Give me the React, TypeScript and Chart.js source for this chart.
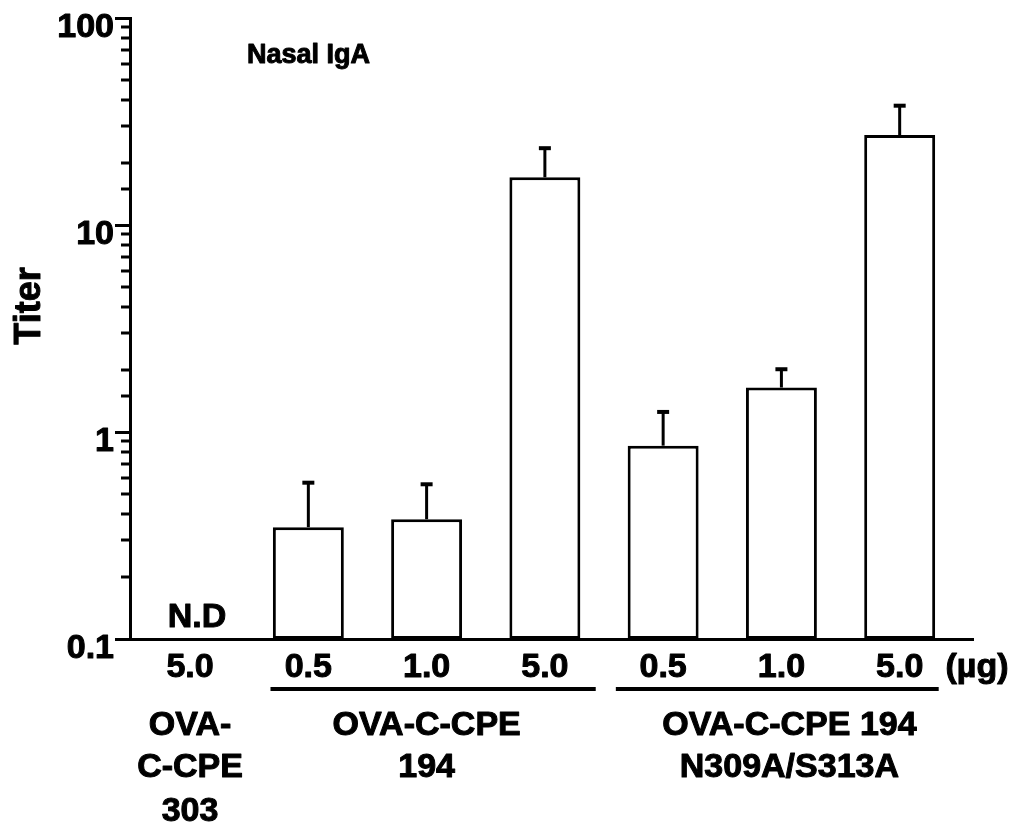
import React, { useEffect, useRef } from "react";
import { Chart, registerables } from "chart.js";

Chart.register(...registerables);

// ---- data ----
const doseLabels = ["5.0", "0.5", "1.0", "5.0", "0.5", "1.0", "5.0"];
const titerMeans: (number | null)[] = [null, 0.347, 0.379, 17.0, 0.859, 1.64, 27.2];
const titerUpper: (number | null)[] = [null, 0.569, 0.559, 23.5, 1.25, 2.01, 37.7];
const yTickValues = [0.1, 1, 10, 100];
const yTickLabels = ["0.1", "1", "10", "100"];
const groupLabels = [
  { lines: ["OVA-", "C-CPE", "303"], from: 0, to: 0 },
  { lines: ["OVA-C-CPE", "194"], from: 1, to: 3 },
  { lines: ["OVA-C-CPE 194", "N309A/S313A"], from: 4, to: 6 },
];
const chartTitle = "Nasal IgA";
const yTitle = "Titer";
const unitLabel = "(µg)";
const ndLabel = "N.D";

const FONT = "'Liberation Sans', Arial, Helvetica, sans-serif";

const isPow10 = (v: number) => {
  const l = Math.log10(v);
  return Math.abs(l - Math.round(l)) < 1e-6;
};

const heavyText = (ctx: CanvasRenderingContext2D, s: string, x: number, y: number) => {
  ctx.strokeText(s, x, y);
  ctx.fillText(s, x, y);
};

const decorPlugin = {
  id: "decor",
  afterDatasetsDraw(chart: any) {
    const { ctx, scales } = chart;
    const xs = scales.x;
    const ys = scales.y;
    ctx.save();
    ctx.strokeStyle = "#000";
    ctx.fillStyle = "#000";
    ctx.lineJoin = "round";
    // minor ticks on y axis
    ctx.lineWidth = 3;
    ys.ticks.forEach((t: any) => {
      if (isPow10(t.value)) return;
      const y = Math.round(ys.getPixelForValue(t.value));
      ctx.beginPath();
      ctx.moveTo(xs.left - 9, y);
      ctx.lineTo(xs.left, y);
      ctx.stroke();
    });
    // error bars
    titerMeans.forEach((m, i) => {
      const u = titerUpper[i];
      if (m == null || u == null) return;
      const x = xs.getPixelForValue(i);
      const y0 = ys.getPixelForValue(m);
      const y1 = ys.getPixelForValue(u);
      ctx.lineWidth = 3;
      ctx.beginPath();
      ctx.moveTo(x, y0);
      ctx.lineTo(x, y1);
      ctx.stroke();
      ctx.lineWidth = 4;
      ctx.beginPath();
      ctx.moveTo(x - 6, y1);
      ctx.lineTo(x + 6, y1);
      ctx.stroke();
    });

    ctx.lineWidth = 1;
    ctx.textBaseline = "alphabetic";
    // y tick labels
    ctx.font = `bold 34px ${FONT}`;
    ctx.textAlign = "right";
    yTickValues.forEach((v, i) => {
      const y = ys.getPixelForValue(v);
      heavyText(ctx, yTickLabels[i], xs.left - 16, y + 19);
    });
    // x dose labels
    ctx.textAlign = "center";
    doseLabels.forEach((s, i) => {
      heavyText(ctx, s, xs.getPixelForValue(i), ys.bottom + 38);
    });
    // title
    ctx.font = `bold 27px ${FONT}`;
    ctx.textAlign = "left";
    heavyText(ctx, chartTitle, 247, 63);
    // y title
    ctx.save();
    ctx.translate(40, 306);
    ctx.rotate(-Math.PI / 2);
    ctx.font = `bold 36px ${FONT}`;
    ctx.textAlign = "center";
    heavyText(ctx, yTitle, 0, 0);
    ctx.restore();
    // N.D
    ctx.font = `bold 34px ${FONT}`;
    ctx.textAlign = "center";
    heavyText(ctx, ndLabel, xs.getPixelForValue(0) + 7, 627);
    // unit
    heavyText(ctx, unitLabel, 977, 677);
    // group underlines and labels
    const baselines = [735, 777, 821];
    const lineExt: Record<number, [number, number]> = { 1: [-0.32, 0.43], 4: [-0.4, 0.33] };
    groupLabels.forEach((g) => {
      const cx = (xs.getPixelForValue(g.from) + xs.getPixelForValue(g.to)) / 2;
      if (g.to > g.from) {
        const ext = lineExt[g.from] || [-0.36, 0.36];
        ctx.lineWidth = 4;
        ctx.beginPath();
        ctx.moveTo(xs.getPixelForValue(g.from + ext[0]), 689);
        ctx.lineTo(xs.getPixelForValue(g.to + ext[1]), 689);
        ctx.stroke();
        ctx.lineWidth = 1;
      }
      g.lines.forEach((line, k) => {
        heavyText(ctx, line, cx + (g.from === 4 ? 8 : 0), baselines[k]);
      });
    });
    ctx.restore();
  },
};

export default function App() {
  const ref = useRef<HTMLCanvasElement>(null);
  useEffect(() => {
    if (!ref.current) return;
    const chart = new Chart(ref.current, {
      type: "bar",
      data: {
        datasets: [
          {
            data: titerMeans.map((v, i) => ({ x: i, y: v })) as any,
            backgroundColor: "#fff",
            borderColor: "#000",
            borderWidth: 3,
            borderSkipped: false,
            barPercentage: 0.6,
            categoryPercentage: 1,
          },
        ],
      },
      options: {
        animation: false,
        responsive: true,
        maintainAspectRatio: false,
        layout: { padding: { top: 18, right: 50, left: 0, bottom: 0 } },
        plugins: { legend: { display: false }, tooltip: { enabled: false } },
        scales: {
          x: {
            type: "linear",
            offset: false,
            min: -0.508,
            max: 6.62,
            afterBuildTicks: (s: any) => {
              s.ticks = doseLabels.map((_, i) => ({ value: i }));
            },
            afterFit: (s: any) => {
              s.height = 183;
            },
            grid: { display: false },
            border: { display: true, width: 3, color: "#000" },
            ticks: { display: false },
          },
          y: {
            type: "logarithmic",
            min: 0.1,
            max: 100,
            afterFit: (s: any) => {
              s.width = 130;
            },
            grid: {
              drawOnChartArea: false,
              tickLength: 15,
              tickWidth: 3,
              tickColor: (c: any) => (c.tick && isPow10(c.tick.value) ? "#000" : "rgba(0,0,0,0)"),
            },
            border: { display: true, width: 3, color: "#000" },
            ticks: { display: false, autoSkip: false },
          },
        },
      },
      plugins: [decorPlugin],
    });
    return () => chart.destroy();
  }, []);
  return (
    <div style={{ position: "fixed", left: 0, top: 0, width: 1023, height: 822, background: "#fff" }}>
      <canvas ref={ref} />
    </div>
  );
}
